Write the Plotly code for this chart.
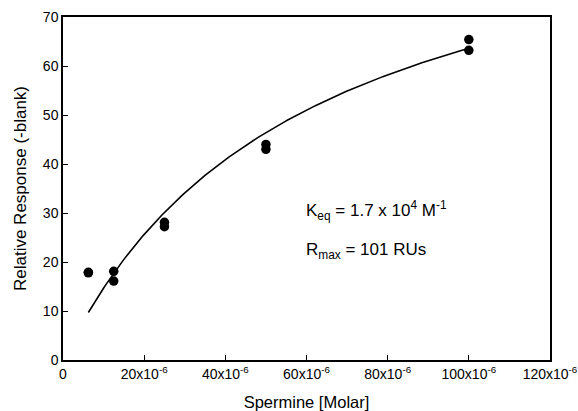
import numpy as np
import plotly.graph_objects as go

# Data
conc = [6.25e-6, 6.25e-6, 12.5e-6, 12.5e-6, 25e-6, 25e-6, 50e-6, 50e-6, 100e-6, 100e-6]
response = [17.8, 17.9, 18.1, 16.1, 28.1, 27.2, 44.0, 43.0, 65.4, 63.2]

# Binding fit parameters (from annotation)
K_eq = 1.7e4
R_max = 101.0
fit_start, fit_end = 6.25e-6, 100e-6

x_tickvals = [0, 20e-6, 40e-6, 60e-6, 80e-6, 100e-6, 120e-6]
x_ticktext = ["0", "20x10<sup>-6</sup>", "40x10<sup>-6</sup>", "60x10<sup>-6</sup>",
              "80x10<sup>-6</sup>", "100x10<sup>-6</sup>", "120x10<sup>-6</sup>"]
y_tickvals = [0, 10, 20, 30, 40, 50, 60, 70]

xf = np.linspace(fit_start, fit_end, 200)
yf = R_max * K_eq * xf / (1 + K_eq * xf)

fig = go.Figure()
fig.add_trace(go.Scatter(x=xf, y=yf, mode="lines",
                         line=dict(color="black", width=1.6), showlegend=False))
fig.add_trace(go.Scatter(x=conc, y=response, mode="markers",
                         marker=dict(color="black", size=9.5), showlegend=False))

font = "Liberation Sans, Arial, sans-serif"
fig.add_annotation(x=59.5e-6, y=30.6, xanchor="left", yanchor="middle", showarrow=False,
                   text="K<sub>eq</sub> = 1.7 x 10<sup>4</sup> M<sup>-1</sup>",
                   font=dict(size=17, color="black", family=font))
fig.add_annotation(x=59.5e-6, y=22.3, xanchor="left", yanchor="middle", showarrow=False,
                   text="R<sub>max</sub> = 101 RUs",
                   font=dict(size=17, color="black", family=font))

fig.update_layout(
    width=578, height=411,
    margin=dict(l=63, r=28, t=17, b=51),
    paper_bgcolor="white", plot_bgcolor="white",
    font=dict(family=font, color="black", size=14),
    xaxis=dict(range=[0, 120e-6], tickvals=x_tickvals, ticktext=x_ticktext,
               ticks="inside", ticklen=5, tickcolor="black", showgrid=False, zeroline=False,
               showline=True, linecolor="black", linewidth=1.5, mirror=True,
               automargin=False,
               title=dict(text="Spermine [Molar]", font=dict(size=16.5), standoff=18)),
    yaxis=dict(range=[0, 70], tickvals=y_tickvals, automargin=False,
               ticks="inside", ticklen=5, tickcolor="black", showgrid=False, zeroline=False,
               showline=True, linecolor="black", linewidth=1.5, mirror=True,
               title=dict(text="Relative Response (-blank)", font=dict(size=17), standoff=12)),
)

fig.write_html("out.html")
